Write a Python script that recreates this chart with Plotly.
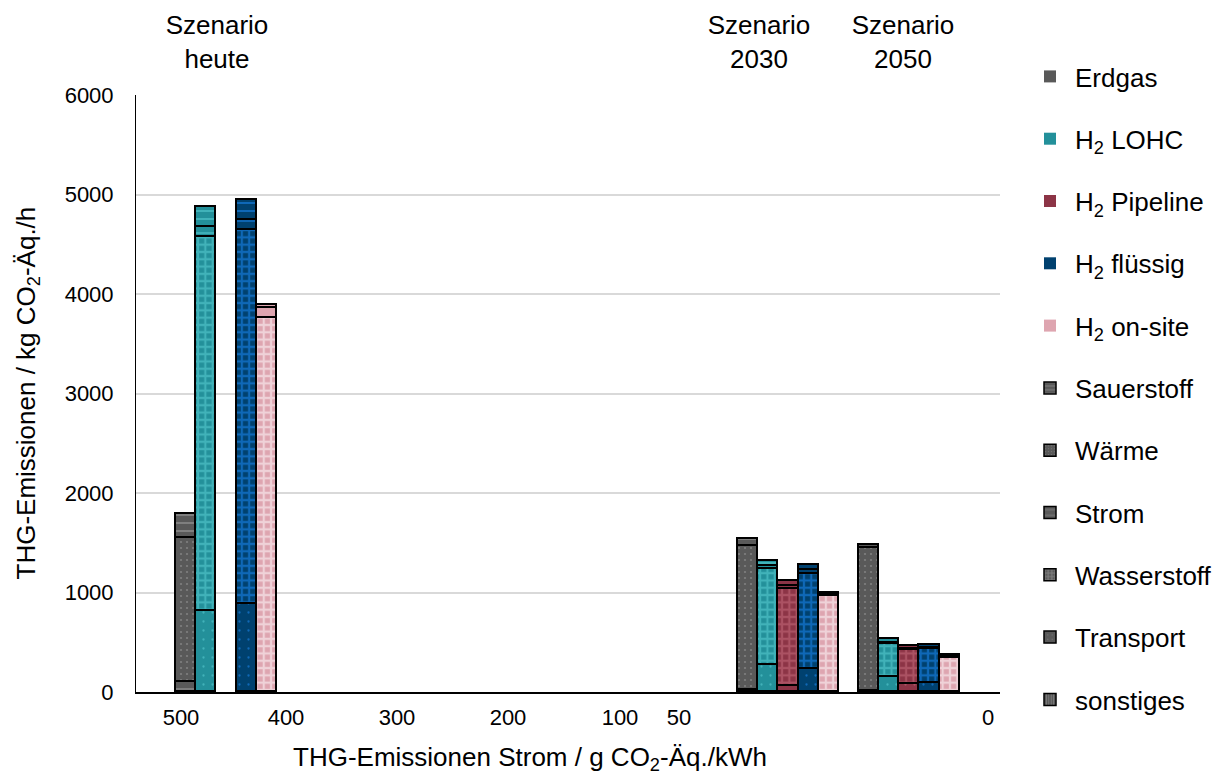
import plotly.graph_objects as go

# ---------------- data ----------------
scenarios = ["heute", "2030", "2050"]
scenario_labels = ["Szenario<br>heute", "Szenario<br>2030", "Szenario<br>2050"]
technologies = ["Erdgas", "H<sub>2</sub> LOHC", "H<sub>2</sub> Pipeline",
                "H<sub>2</sub> flüssig", "H<sub>2</sub> on-site"]
# stack order bottom -> top
components = ["sonstiges", "Transport", "Wasserstoff", "Strom", "Wärme", "Sauerstoff"]
legend_components = ["Sauerstoff", "Wärme", "Strom", "Wasserstoff", "Transport", "sonstiges"]

# values in kg CO2-Äq./h, order per scenario: Erdgas, LOHC, Pipeline, flüssig, on-site
sonstiges = {
    "heute": [0, 0, 0, 0, 0],
    "2030":  [0, 0, 0, 0, 0],
    "2050":  [0, 0, 0, 0, 0],
}
transport = {
    "heute": [0, 814, 0, 881, 0],
    "2030":  [0, 271, 64, 228, 0],
    "2050":  [0, 154, 77, 87, 0],
}
wasserstoff = {
    "heute": [0, 3756, 0, 3762, 3760],
    "2030":  [0, 962, 971, 958, 965],
    "2050":  [0, 328, 345, 342, 338],
}
strom = {
    "heute": [104, 100, 0, 100, 100],
    "2030":  [25, 33, 34, 40, 22],
    "2050":  [8, 15, 12, 13, 12],
}
waerme = {
    "heute": [1440, 0, 0, 0, 0],
    "2030":  [1442, 0, 0, 0, 0],
    "2050":  [1436, 0, 0, 0, 0],
}
sauerstoff = {
    "heute": [240, 200, 0, 200, 25],
    "2030":  [68, 54, 47, 50, 11],
    "2050":  [33, 32, 28, 30, 22],
}
component_values = {
    "sonstiges": sonstiges, "Transport": transport, "Wasserstoff": wasserstoff,
    "Strom": strom, "Wärme": waerme, "Sauerstoff": sauerstoff,
}

x_tick_labels = ["500", "400", "300", "200", "100", "50", "0"]

# ---------------- layout / style constants ----------------
# x axis runs in plot-width units (0..864)
X_RANGE = [0, 864]
x_tick_pos = [45, 150, 261, 372, 484, 543, 852]
scenario_center = [90.5, 652.5, 773.3]
BAR_W = 20.3

tech_colors = ["#595959", "#23909a", "#8c3446", "#00416f", "#dea5b0"]
tech_pattern_colors = ["#a6a6a6", "#5fd4d8", "#c9707f", "#1e8fff", "#ffffff"]

pattern_style = {
    "sonstiges":  dict(shape="|", size=5, solidity=0.3),
    "Transport":  dict(shape=".", size=9, solidity=0.05),
    "Wasserstoff": dict(shape="+", size=7.3, solidity=0.5),
    "Strom":      dict(shape="-", size=12, solidity=0.15),
    "Wärme":      dict(shape=".", size=6, solidity=0.1),
    "Sauerstoff": dict(shape="-", size=8, solidity=0.25),
}

FONT = "Liberation Sans, Arial, sans-serif"
FS_TICK = 22
FS = 26

fig = go.Figure()

# legend entries: colours
for t, name in enumerate(technologies):
    fig.add_trace(go.Bar(
        x=[None], y=[None], name=name, legendgroup="c%d" % t,
        marker=dict(color=tech_colors[t], line=dict(width=0)),
    ))
# legend entries: patterns
for comp in legend_components:
    ps = pattern_style[comp]
    fig.add_trace(go.Bar(
        x=[None], y=[None], name=comp, legendgroup="p_" + comp,
        marker=dict(color="#595959", line=dict(color="black", width=1.5),
                    pattern=dict(shape=ps["shape"], size=ps["size"] * 0.6,
                                 solidity=ps["solidity"], fgcolor="#a6a6a6",
                                 fillmode="overlay")),
    ))

# data bars
for comp in components:
    vals = component_values[comp]
    ps = pattern_style[comp]
    for t in range(len(technologies)):
        xs, ys = [], []
        for s, scen in enumerate(scenarios):
            v = vals[scen][t]
            xs.append(scenario_center[s] + (t - 2) * BAR_W)
            ys.append(v if v else None)
        fig.add_trace(go.Bar(
            x=xs, y=ys, width=BAR_W, showlegend=False,
            name=comp, hovertemplate=comp + ": %{y}<extra></extra>",
            marker=dict(color=tech_colors[t],
                        line=dict(color="black", width=1.6),
                        pattern=dict(shape=ps["shape"], size=ps["size"],
                                     solidity=ps["solidity"],
                                     fgcolor=tech_pattern_colors[t],
                                     fillmode="overlay")),
        ))

# scenario labels (white boxes also hide the top grid line, as in the original)
box_specs = [(217, 160), (759, 146), (903, 142)]
for lab, (cx, w) in zip(scenario_labels, box_specs):
    fig.add_annotation(
        x=(cx - 136) / 864, xref="paper", y=(692 - 9) / 597, yref="paper",
        xanchor="center", yanchor="top", text=lab, showarrow=False,
        font=dict(family=FONT, size=FS, color="black"),
        bgcolor="white", width=w, height=89, valign="top", borderpad=0,
    )

# axis titles
fig.add_annotation(
    x=(27 - 136) / 864, xref="paper", y=0.5, yref="paper",
    xanchor="center", yanchor="middle",
    text="THG-Emissionen / kg CO<sub>2</sub>-Äq./h", textangle=-90,
    showarrow=False, font=dict(family=FONT, size=FS, color="black"),
)
fig.add_annotation(
    x=(530 - 136) / 864, xref="paper", y=(692 - 758) / 597, yref="paper",
    xanchor="center", yanchor="middle",
    text="THG-Emissionen Strom / g CO<sub>2</sub>-Äq./kWh",
    showarrow=False, font=dict(family=FONT, size=FS, color="black"),
)

fig.update_layout(
    width=1218, height=773,
    margin=dict(l=136, r=218, t=95, b=81, autoexpand=False),
    paper_bgcolor="white", plot_bgcolor="white",
    barmode="stack", bargap=0,
    font=dict(family=FONT, size=FS, color="black"),
    legend=dict(x=(1025 - 136) / 864, y=(692 - 53) / 597, xanchor="left", yanchor="top",
                font=dict(family=FONT, size=FS, color="black"),
                tracegroupgap=25.5, itemwidth=40, bgcolor="rgba(0,0,0,0)",
                traceorder="grouped", maxheight=770),
    xaxis=dict(range=X_RANGE, tickmode="array", tickvals=x_tick_pos, ticktext=x_tick_labels,
               showgrid=False, zeroline=False, showline=True, linecolor="black", linewidth=1.5,
               ticks="", ticklabelstandoff=5, tickfont=dict(family=FONT, size=FS_TICK)),
    yaxis=dict(range=[0, 6000], tickvals=[0, 1000, 2000, 3000, 4000, 5000, 6000],
               showgrid=True, gridcolor="#d9d9d9", gridwidth=1.5, zeroline=False,
               showline=True, linecolor="black", linewidth=1,
               ticks="", ticklabelstandoff=17, tickfont=dict(family=FONT, size=FS_TICK)),
)

fig.write_html("out.html", config={"displayModeBar": False},
               post_script="document.body.style.margin='0px';")
